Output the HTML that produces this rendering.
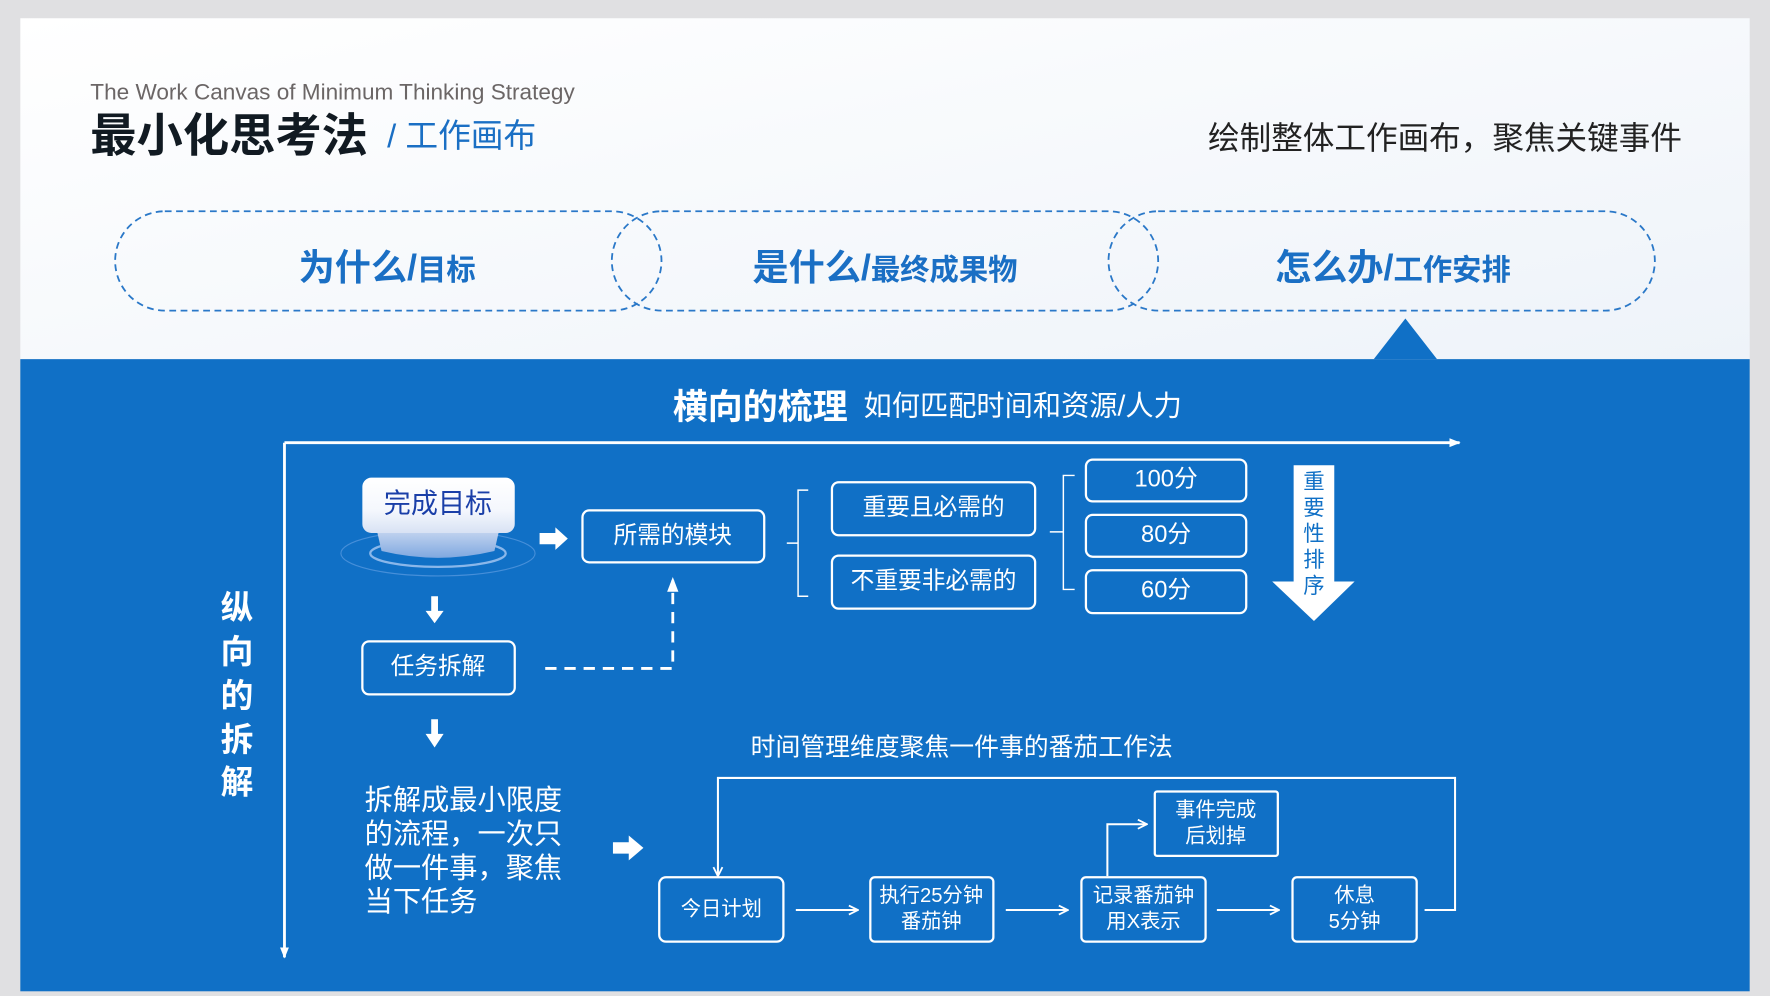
<!DOCTYPE html>
<html><head><meta charset="utf-8"><style>
html,body{margin:0;padding:0;background:#e0e0e2}
svg{display:block}
text{font-family:"Liberation Sans","Noto Sans CJK SC",sans-serif}
</style></head><body>
<svg width="1770" height="996" viewBox="0 0 1568 882" xmlns="http://www.w3.org/2000/svg">
<defs>
<linearGradient id="wg" x1="0" y1="0" x2="1" y2="1"><stop offset="0" stop-color="#ffffff"/><stop offset="1" stop-color="#eef3f9"/></linearGradient>
<linearGradient id="btn" x1="0" y1="0" x2="0" y2="1"><stop offset="0" stop-color="#ffffff"/><stop offset="0.6" stop-color="#f4f7fd"/><stop offset="1" stop-color="#d8e2f4"/></linearGradient>
<linearGradient id="base" x1="0" y1="0" x2="0" y2="1"><stop offset="0" stop-color="#cfdcf2"/><stop offset="1" stop-color="#7fa8e0"/></linearGradient>
<marker id="ah" markerWidth="10" markerHeight="10" refX="9" refY="5" orient="auto" markerUnits="userSpaceOnUse"><path d="M1,1 L9,5 L1,9" fill="none" stroke="#fff" stroke-width="1.6"/></marker>
<marker id="af" markerWidth="10" markerHeight="10" refX="9" refY="5" orient="auto" markerUnits="userSpaceOnUse"><path d="M0,1 L10,5 L0,9 Z" fill="#fff"/></marker>
</defs>
<rect x="0" y="0" width="1568" height="882" fill="#e0e0e2"/>
<rect x="18" y="16" width="1532" height="302" fill="url(#wg)"/>
<rect x="18" y="318" width="1532" height="560" fill="#1070c6"/>
<polygon points="1245,282 1217,318 1273,318" fill="#1070c6"/>

<text x="80" y="88" font-size="20" fill="#6b6666">The Work Canvas of  Minimum Thinking Strategy</text>
<text x="80" y="134" font-size="41" font-weight="bold" fill="#111a22">最小化思考法</text>
<text x="343" y="130" font-size="29" fill="#1a6fc4">/ 工作画布</text>
<text x="1490" y="132" font-size="28" fill="#222" text-anchor="end">绘制整体工作画布，聚焦关键事件</text>

<g fill="none" stroke="#2a78c8" stroke-width="1.6" stroke-dasharray="6,4">
<rect x="102" y="187" width="484" height="88" rx="44"/>
<rect x="542" y="187" width="484" height="88" rx="44"/>
<rect x="982" y="187" width="484" height="88" rx="44"/>
</g>
<g font-weight="bold" fill="#1a6fc4" text-anchor="middle">
<text x="343" y="248"><tspan font-size="32">为什么/</tspan><tspan font-size="26">目标</tspan></text>
<text x="784" y="248"><tspan font-size="32">是什么/</tspan><tspan font-size="26">最终成果物</tspan></text>
<text x="1234" y="248"><tspan font-size="32">怎么办/</tspan><tspan font-size="26">工作安排</tspan></text>
</g>

<text x="596" y="371" font-size="31" font-weight="bold" fill="#fff">横向的梳理</text>
<text x="765" y="368" font-size="25" fill="#fff">如何匹配时间和资源/人力</text>
<line x1="252" y1="392" x2="1293" y2="392" stroke="#fff" stroke-width="2.5" marker-end="url(#af)"/>
<line x1="252" y1="392" x2="252" y2="848" stroke="#fff" stroke-width="2.5" marker-end="url(#af)"/>
<g font-size="29" font-weight="bold" fill="#fff" text-anchor="middle">
<text x="210" y="548">纵</text><text x="210" y="587">向</text><text x="210" y="626">的</text><text x="210" y="665">拆</text><text x="210" y="703">解</text>
</g>

<ellipse cx="388" cy="490" rx="86" ry="20" fill="none" stroke="#6aa3e6" stroke-width="1" opacity="0.6"/>
<ellipse cx="388" cy="490" rx="60" ry="12" fill="none" stroke="#a9c9f2" stroke-width="2" opacity="0.8"/>
<path d="M333,466 L443,466 L438,488 Q388,500 338,488 Z" fill="url(#base)"/>
<rect x="321" y="423" width="135" height="49" rx="8" fill="url(#btn)"/>
<text x="388" y="454" font-size="24" fill="#1a3fa8" text-anchor="middle">完成目标</text>

<path d="M478,472 L492,472 L492,467 L503,477 L492,487 L492,482 L478,482 Z" fill="#fff"/>
<g fill="none" stroke="#fff" stroke-width="2">
<rect x="516" y="452" width="161" height="46" rx="6"/>
<rect x="737" y="427" width="180" height="47" rx="6"/>
<rect x="737" y="492" width="180" height="47" rx="6"/>
<rect x="962" y="407" width="142" height="37" rx="6"/>
<rect x="962" y="456" width="142" height="37" rx="6"/>
<rect x="962" y="505" width="142" height="38" rx="6"/>
<rect x="321" y="568" width="135" height="47" rx="6"/>
</g>
<g fill="none" stroke="#fff" stroke-width="1.3">
<path d="M716,434 L707,434 L707,528 L716,528 M707,481 L697,481"/>
<path d="M952,421 L942,421 L942,522 L952,522 M942,471 L930,471"/>
</g>
<g font-size="21" fill="#fff" text-anchor="middle">
<text x="596" y="481">所需的模块</text>
<text x="827" y="456">重要且必需的</text>
<text x="827" y="521">不重要非必需的</text>
<text x="1033" y="431">100分</text>
<text x="1033" y="480">80分</text>
<text x="1033" y="529">60分</text>
<text x="388" y="597">任务拆解</text>
</g>
<path d="M1146,412 L1182,412 L1182,515 L1200,515 L1164,550 L1127,515 L1146,515 Z" fill="#fff"/>
<g font-size="19" fill="#1070c6" text-anchor="middle">
<text x="1164" y="433">重</text><text x="1164" y="456">要</text><text x="1164" y="479">性</text><text x="1164" y="502">排</text><text x="1164" y="525">序</text>
</g>
<path d="M382,528 L388,528 L388,541 L393,541 L385,552 L377,541 L382,541 Z" fill="#fff"/>
<path d="M382,637 L388,637 L388,650 L393,650 L385,662 L377,650 L382,650 Z" fill="#fff"/>
<path d="M483,592 L596,592 L596,514" fill="none" stroke="#fff" stroke-width="2.5" stroke-dasharray="10,7"/>
<path d="M591,524 L596,511 L601,524 Z" fill="#fff"/>

<g font-size="25" fill="#fff">
<text x="323" y="717">拆解成最小限度</text>
<text x="323" y="747">的流程，一次只</text>
<text x="323" y="777">做一件事，聚焦</text>
<text x="323" y="807">当下任务</text>
</g>
<path d="M543,746 L557,746 L557,740 L570,751 L557,762 L557,756 L543,756 Z" fill="#fff"/>
<text x="665" y="669" font-size="22" fill="#fff">时间管理维度聚焦一件事的番茄工作法</text>
<g fill="none" stroke="#fff" stroke-width="2">
<rect x="584" y="777" width="110" height="57" rx="6"/>
<rect x="771" y="777" width="109" height="57" rx="4"/>
<rect x="958" y="777" width="110" height="57" rx="4"/>
<rect x="1145" y="777" width="110" height="57" rx="4"/>
<rect x="1023" y="701" width="109" height="57" rx="2"/>
</g>
<g fill="none" stroke="#fff" stroke-width="1.8">
<path d="M1262,806 L1289,806 L1289,689 L636,689 L636,776" marker-end="url(#ah)"/>
<line x1="705" y1="806" x2="760" y2="806" marker-end="url(#ah)"/>
<line x1="891" y1="806" x2="946" y2="806" marker-end="url(#ah)"/>
<line x1="1078" y1="806" x2="1133" y2="806" marker-end="url(#ah)"/>
<path d="M981,776 L981,730 L1016,730" marker-end="url(#ah)"/>
</g>
<g font-size="18" fill="#fff" text-anchor="middle">
<text x="639" y="811">今日计划</text>
<text x="825" y="799">执行25分钟</text><text x="825" y="822">番茄钟</text>
<text x="1013" y="799">记录番茄钟</text><text x="1013" y="822">用X表示</text>
<text x="1200" y="799">休息</text><text x="1200" y="822">5分钟</text>
<text x="1077" y="723">事件完成</text><text x="1077" y="746">后划掉</text>
</g>
</svg>
</body></html>
